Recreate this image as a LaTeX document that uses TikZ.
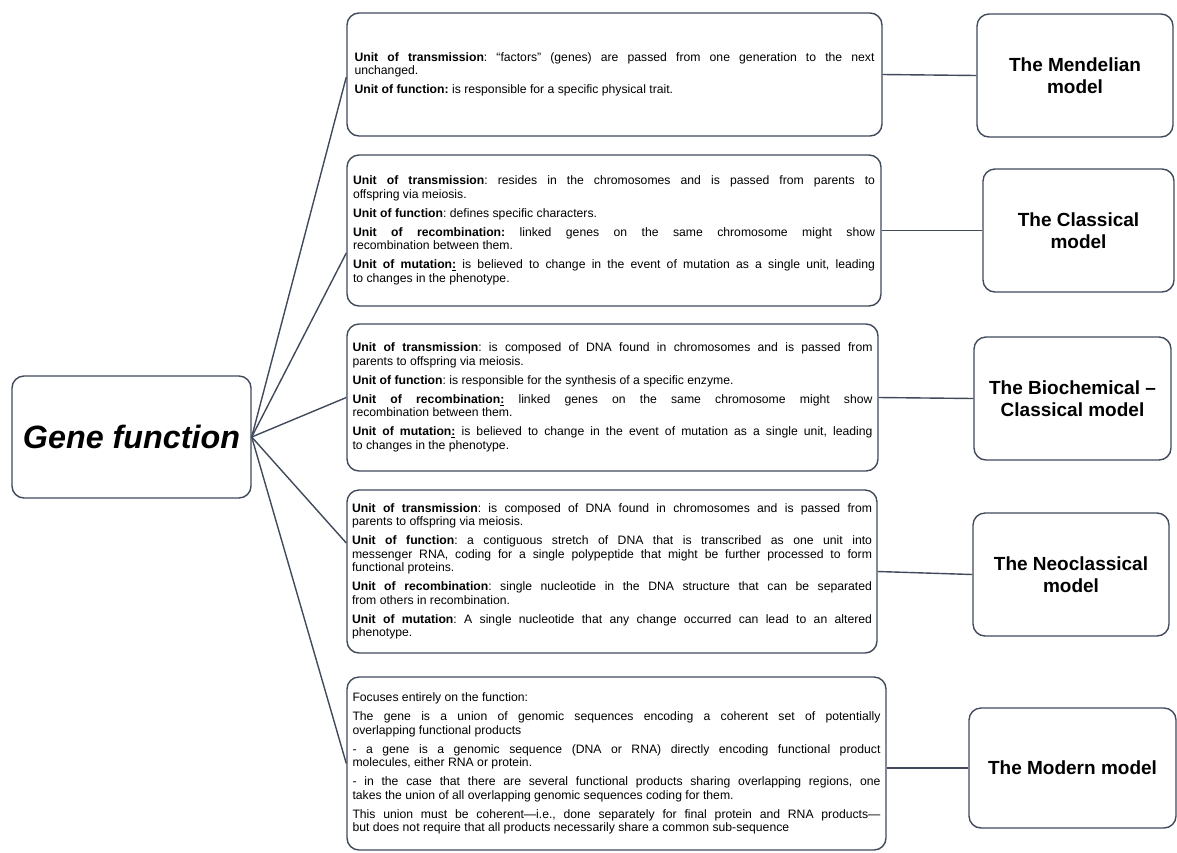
\documentclass[tikz,border=0pt]{standalone}
\usepackage{fontspec}
\setmainfont{Liberation Sans}
\definecolor{edge}{RGB}{64,74,90}
\newcommand\bodyfont{\fontsize{12.2}{13.5}\selectfont\frenchspacing\hyphenpenalty=10000 \exhyphenpenalty=10000 }
\newcommand\titlefont{\fontsize{19}{21.5}\selectfont\bfseries}
\newcommand\genefont{\fontsize{32.3}{36}\selectfont\bfseries\itshape}
\newcommand\psep{\par\vspace{5.5pt}}
\tikzset{
  frame/.style={draw=edge, line width=1.4pt, rounded corners=12pt, inner sep=0pt},
  textbox/.style={frame, align=justify, font=\bodyfont},
  titlebox/.style={frame, align=center, font=\titlefont},
  link/.style={draw=edge, line width=1.4pt},
}
\begin{document}
\begin{tikzpicture}[x=1pt,y=-1pt]
\useasboundingbox (0,0) rectangle (1177,852);

% root
\node[frame, minimum width=239pt, minimum height=122pt, font=\genefont] (gene) at (131.5,437) {Gene function};

% text boxes
\node[textbox, text width=520pt, minimum width=535pt, minimum height=123pt] (b1) at (614.5,74.5)
{\textbf{Unit of transmission}: “factors” (genes) are passed from one generation to the next\linebreak unchanged.\psep
\textbf{Unit of function:} is responsible for a specific physical trait.};

\node[textbox, text width=522pt, minimum width=534pt, minimum height=151pt] (b2) at (614,230.5)
{\textbf{Unit of transmission}: resides in the chromosomes and is passed from parents to\linebreak offspring via meiosis.\psep
\textbf{Unit of function}: defines specific characters.\psep
\textbf{Unit of recombination:} linked genes on the same chromosome might show\linebreak recombination between them.\psep
\textbf{Unit of mutation\underline{:}} is believed to change in the event of mutation as a single unit, leading\linebreak to changes in the phenotype.};

\node[textbox, text width=520pt, minimum width=531pt, minimum height=147pt] (b3) at (612.5,397.5)
{\textbf{Unit of transmission}: is composed of DNA found in chromosomes and is passed from\linebreak parents to offspring via meiosis.\psep
\textbf{Unit of function}: is responsible for the synthesis of a specific enzyme.\psep
\textbf{Unit of recombination\underline{:}} linked genes on the same chromosome might show\linebreak recombination between them.\psep
\textbf{Unit of mutation\underline{:}} is believed to change in the event of mutation as a single unit, leading\linebreak to changes in the phenotype.};

\node[textbox, text width=520pt, minimum width=530pt, minimum height=163pt] (b4) at (612,571.5)
{\textbf{Unit of transmission}: is composed of DNA found in chromosomes and is passed from\linebreak parents to offspring via meiosis.\psep
\textbf{Unit of function}: a contiguous stretch of DNA that is transcribed as one unit into\linebreak messenger RNA, coding for a single polypeptide that might be further processed to form\linebreak functional proteins.\psep
\textbf{Unit of recombination}: single nucleotide in the DNA structure that can be separated\linebreak from others in recombination.\psep
\textbf{Unit of mutation}: A single nucleotide that any change occurred can lead to an altered\linebreak phenotype.};

\node[textbox, text width=528pt, minimum width=539pt, minimum height=173pt] (b5) at (616.5,763.5)
{Focuses entirely on the function:\psep
The gene is a union of genomic sequences encoding a coherent set of potentially\linebreak overlapping functional products\psep
- a gene is a genomic sequence (DNA or RNA) directly encoding functional product\linebreak molecules, either RNA or protein.\psep
- in the case that there are several functional products sharing overlapping regions, one\linebreak takes the union of all overlapping genomic sequences coding for them.\psep
This union must be coherent—i.e., done separately for final protein and RNA products—\linebreak but does not require that all products necessarily share a common sub-sequence};

% model boxes
\node[titlebox, minimum width=196pt, minimum height=123pt] (m1) at (1075,75.5) {The Mendelian\\model};
\node[titlebox, minimum width=191pt, minimum height=123pt] (m2) at (1078.5,230.5) {The Classical\\model};
\node[titlebox, minimum width=197pt, minimum height=123pt] (m3) at (1072.5,398.5) {The Biochemical –\\Classical model};
\node[titlebox, minimum width=196pt, minimum height=123pt] (m4) at (1071,574.5) {The Neoclassical\\model};
\node[titlebox, minimum width=207pt, minimum height=120pt] (m5) at (1072.5,768) {The Modern model};

% connectors root -> text boxes
\draw[link] (gene.east) -- ([yshift=-2.5pt]b1.west);
\draw[link] (gene.east) -- ([yshift=-22.5pt]b2.west);
\draw[link] (gene.east) -- (b3.west);
\draw[link] (gene.east) -- ([yshift=28.5pt]b4.west);
\draw[link] (gene.east) -- (b5.west);

% connectors text boxes -> model boxes
\draw[link] (b1.east) -- (m1.west);
\draw[link] (b2.east) -- (m2.west);
\draw[link] (b3.east) -- (m3.west);
\draw[link] (b4.east) -- (m4.west);
\draw[link] (b5.east |- m5.west) -- (m5.west);
\end{tikzpicture}
\end{document}
